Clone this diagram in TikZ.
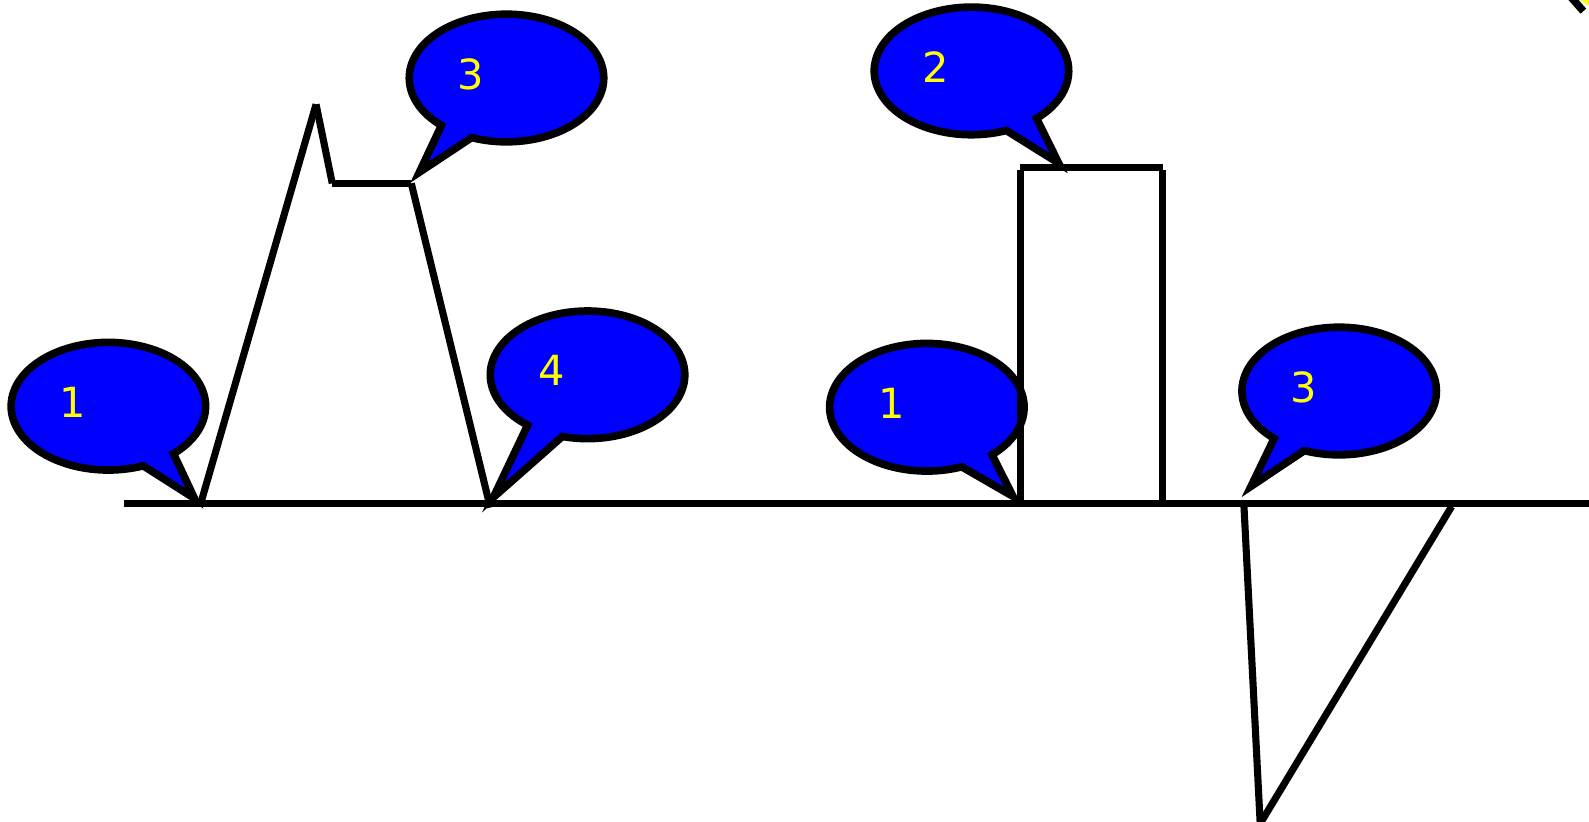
\documentclass[tikz,border=0pt]{standalone}
\usepackage{fontspec}
\setmainfont{DejaVu Sans}
\usetikzlibrary{calc}
\definecolor{bblue}{RGB}{0,0,255}
\definecolor{lyellow}{RGB}{255,255,0}
\newcommand{\speech}[6]{%
  \coordinate (#1c) at #2;
  \coordinate (#1t) at #3;
  \draw[bubble] (#1t) -- ($(#1c)+(#4:96 and 63)$) arc[start angle=#4, end angle=#5, x radius=96, y radius=63] -- cycle;
  \node[lbl] (#1l) at ($(#1c)+(-35,-4)$) {#6};
}
\begin{document}
\begin{tikzpicture}[x=1pt,y=-1pt,
  seg/.style={draw=black, line width=7pt, line cap=butt},
  bubble/.style={draw=black, fill=bblue, line width=7.5pt, line join=miter},
  lbl/.style={text=lyellow, inner sep=0pt, font=\fontsize{41}{49}\selectfont}]
\useasboundingbox (0,0) rectangle (1568.6,811.4);
% speech bubbles
\speech{ca}{(107,401)}{(192,492)}{69}{408}{1}
\speech{cb}{(500,77)}{(414,170)}{132}{471}{3}
\speech{cc}{(580,370)}{(487,491)}{128}{465}{4}
\speech{cd}{(959,70)}{(1045,161)}{69}{408}{2}
\speech{ce}{(915,402)}{(1000,490)}{69}{408}{1}
\speech{cf}{(1322,386)}{(1235,480)}{132}{471}{3}
% corner fragment
\fill[lyellow] (1559,-1) -- (1570,-1) -- (1570,7) -- cycle;
\draw[seg, line width=7.5pt] (1548,-6) -- (1563,11);
% baseline
\coordinate (b0) at (122,497);
\coordinate (b1) at (1570,497);
\draw[seg] (b0) -- (b1);
% mountain
\coordinate (m1) at (199,494);
\coordinate (m2) at (312,103);
\coordinate (m3) at (328,181);
\coordinate (m4) at (406,181);
\coordinate (m5) at (484,501);
\draw[seg] (m1) -- (m2);
\draw[seg] (m2) -- (m3);
\draw[seg] (m3) -- (m4);
\draw[seg] (m4) -- (m5);
% rectangle
\coordinate (r1) at (1007,494);
\coordinate (r2) at (1007,168);
\coordinate (r3) at (1007,165);
\coordinate (r4) at (1148,165);
\coordinate (r5) at (1148,168);
\coordinate (r6) at (1148,494);
\draw[seg] (r1) -- (r2);
\draw[seg] (r3) -- (r4);
\draw[seg] (r5) -- (r6);
% lower triangle
\coordinate (t1) at (1228,500);
\coordinate (t2) at (1244,813);
\coordinate (t3) at (1433,500);
\draw[seg] (t1) -- (t2);
\draw[seg] (t2) -- (t3);
\end{tikzpicture}
\end{document}
